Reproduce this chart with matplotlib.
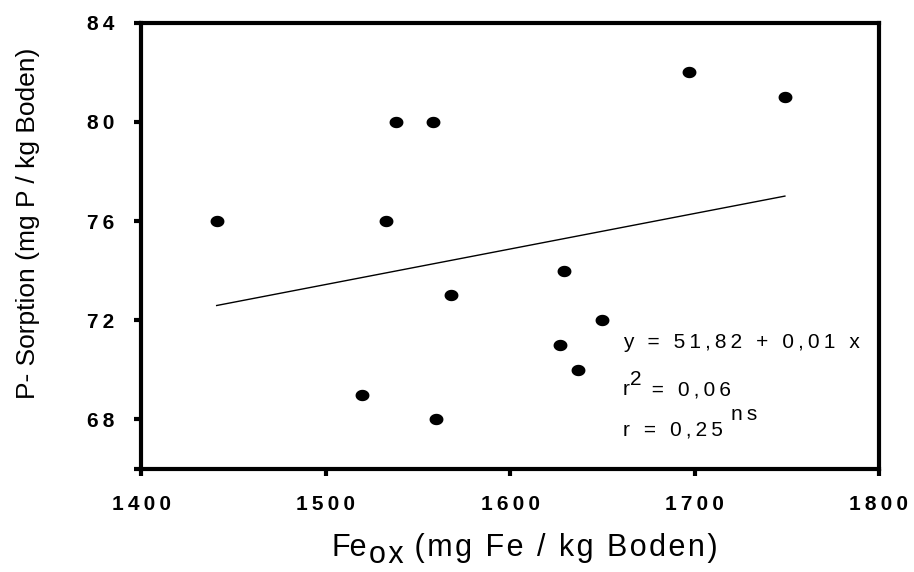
import numpy as np
import matplotlib
matplotlib.use("Agg")
import matplotlib.pyplot as plt
from matplotlib.path import Path

# ----------------------------
# Daten
# ----------------------------
fe_ox = [1441, 1538, 1558, 1533, 1568, 1520, 1560, 1697, 1749, 1629, 1650, 1627, 1637]
p_sorption = [76, 80, 80, 76, 73, 69, 68, 82, 81, 74, 72, 71, 70]

x_ticks = [1400, 1500, 1600, 1700, 1800]
y_ticks = [68, 72, 76, 80, 84]

eq_text = "y = 51,82 + 0,01 x"
r2_text = "0,06"
r_text = "0,25"
sig_text = "ns"

plt.rcParams["font.family"] = ["Liberation Sans", "DejaVu Sans"]

TS = "\u2009"   # thin space -> etwas Sperrung wie im Original
HS = "\u200a"   # hair space


def spaced(s, sep=TS):
    return sep.join(str(s))


def chain(ax, start, pieces, size, coords="data"):
    """Textstuecke nacheinander setzen: (text, dx_pt, dy_pt), dy relativ zur Grundlinie."""
    first, dx, dy = pieces[0]
    prev = ax.annotate(first, xy=start, xycoords=coords, xytext=(dx, dy),
                       textcoords="offset points", fontsize=size,
                       ha="left", va="baseline")
    for s, dx, dy in pieces[1:]:
        prev = ax.annotate(s, xy=(1.0, start[1]), xycoords=(prev, coords),
                           xytext=(dx, dy), textcoords="offset points",
                           fontsize=size, ha="left", va="baseline")
    return prev


# ----------------------------
# Plot
# ----------------------------
fig = plt.figure(figsize=(9.14, 5.72), dpi=100)
ax = fig.add_axes([0.1543, 0.1801, 0.8074, 0.7802])

# leicht elliptischer Punkt
t = np.linspace(0, 2 * np.pi, 40)
ell = Path(np.column_stack([np.cos(t), 0.82 * np.sin(t)]), closed=True)

ax.plot(fe_ox, p_sorption, linestyle="none", marker=ell, markersize=10,
        color="black", markeredgewidth=0, zorder=3)

# Regressionsgerade
k, d = np.polyfit(fe_ox, p_sorption, 1)
xl = np.array([min(fe_ox), max(fe_ox)])
ax.plot(xl, d + k * xl, color="black", linewidth=1.0)

ax.set_xlim(1400, 1800)
ax.set_ylim(66, 84)
ax.set_xticks(x_ticks)
ax.set_yticks([66] + y_ticks)
ax.set_xticklabels([spaced(v) for v in x_ticks], fontweight="bold", fontsize=15)
ax.set_yticklabels([""] + [spaced(v) for v in y_ticks], fontweight="bold", fontsize=15)

for s in ax.spines.values():
    s.set_linewidth(3.0)
ax.tick_params(direction="out", length=5, width=3, pad=14)

# Achsenbeschriftungen
fig.text(28 / 914, 1 - 223 / 572, "P- Sorption (mg P / kg Boden)", fontsize=19,
         rotation=90, ha="center", va="center")
chain(ax, (332, 572 - 556), [("Fe", 0, 0),
                             (spaced("ox", HS), 1, -5),
                             (" " + spaced("(mg Fe / kg Boden)", HS), 2, 0)],
      size=22, coords="figure pixels")

# Gleichung
x0 = 1661
ax.annotate(spaced(eq_text), xy=(x0, 70.88), fontsize=15, ha="left", va="baseline")
chain(ax, (x0, 68.98), [("r", 0, 0), ("2", 0.5, 7),
                        (" " + spaced("= " + r2_text), 3, 0)], size=15)
chain(ax, (x0, 67.37), [(spaced("r = " + r_text), 0, 0),
                        (spaced(sig_text), 6, 11)], size=15)

fig.savefig("out.png", dpi=100)
